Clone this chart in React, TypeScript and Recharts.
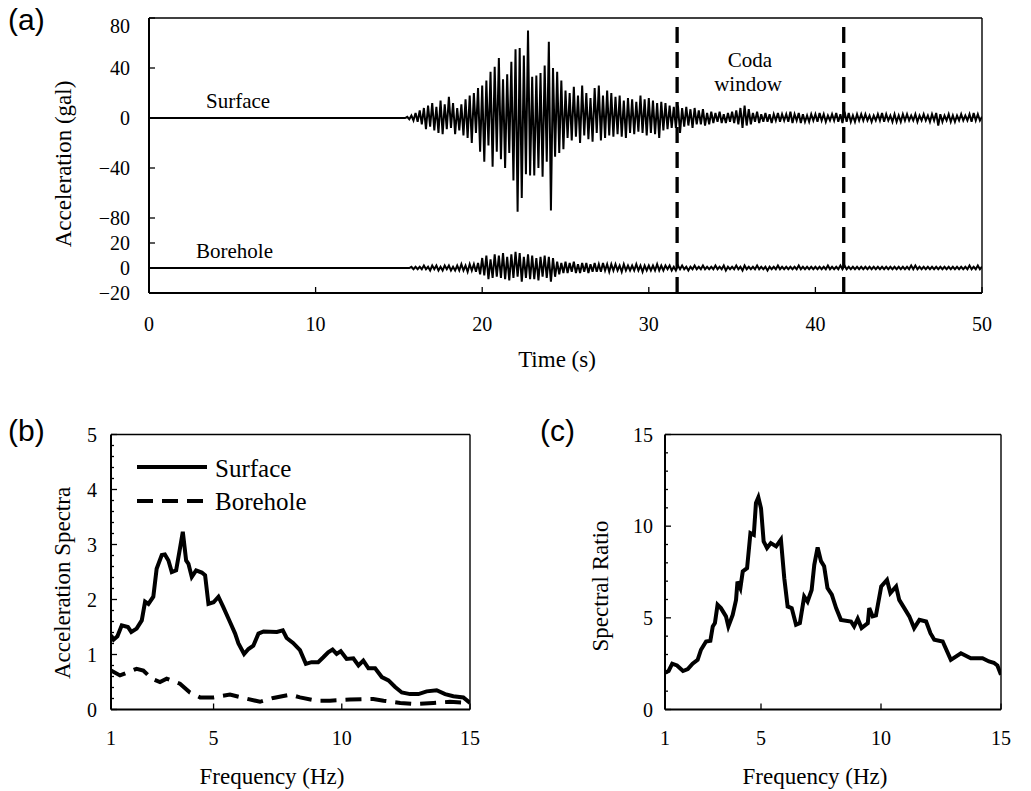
import { Legend, Line, LineChart, ReferenceLine, XAxis, YAxis } from 'recharts'

// (a) acceleration traces, sampled every 0.125 s from 15 s
const traceStart = 15
const traceStep = 0.125
const surfaceOffset = 120

const surfaceAccel = [
  0, 0, 0, 0, 1, -1, 2, -2,
  4, -3, 6, -5, 8, -9, 10, -7,
  12, -10, 9, -12, 14, -13, 11, -9,
  17, -8, 12, -13, 8, -10, 11, -14,
  15, -16, 18, -20, 20, -12, 24, -27,
  26, -35, 30, -22, 37, -39, 41, -27,
  48, -33, 31, -40, 35, -28, 45, -50,
  55, -75, 56, -64, 50, -45, 70, -46,
  33, -46, 34, -40, 36, -47, 42, -35,
  61, -74, 40, -31, 37, -28, 30, -25,
  22, -16, 20, -18, 25, -15, 18, -20,
  26, -14, 20, -17, 16, -19, 24, -12,
  26, -18, 18, -16, 22, -14, 20, -15,
  17, -13, 18, -15, 14, -16, 16, -12,
  15, -13, 13, -11, 18, -12, 15, -14,
  16, -12, 14, -13, 12, -16, 13, -10,
  12, -9, 10, -8, 9, -8, 10, -12,
  8, -7, 9, -6, 7, -8, 8, -5,
  6, -5, 7, -6, 4, -5, 5, -4,
  4, -3, 5, -4, 3, -4, 4, -3,
  5, -4, 6, -5, 8, -8, 10, -6,
  7, -5, 4, -3, 5, -4, 3, -3,
  4, -3, 3, -4, 3, -2, 4, -3,
  3, -2, 3, -3, 5, -4, 3, -2,
  4, -4, 3, -3, 2, -3, 3, -2,
  3, -3, 4, -2, 3, -3, 2, -2,
  3, -2, 4, -3, 3, -4, 5, -3,
  4, -3, 2, -3, 3, -2, 3, -2,
  3, -2, 2, -3, 2, -2, 3, -2,
  4, -3, 3, -2, 2, -3, 3, -3,
  2, -3, 3, -2, 3, -2, 2, -2,
  3, -3, 2, -2, 3, -2, 2, -3,
  3, -2, 4, -6, 3, -3, 2, -2,
  3, -3, 2, -3, 2, -2, 3, -2,
  2, -2, 3, -3, 4, -2, 3, -2,
  1,
]

const boreholeAccel = [
  0, 0, 0, 0, 0, 0, 1, -1,
  1, -1, 1, -1, 2, -1, 1, -2,
  2, -1, 2, -2, 1, -2, 2, -1,
  2, -2, 1, -2, 2, -2, 3, -2,
  2, -3, 3, -2, 3, -3, 4, -5,
  8, -6, 10, -9, 7, -8, 11, -7,
  10, -8, 12, -9, 9, -10, 11, -8,
  13, -7, 12, -11, 9, -8, 11, -9,
  10, -9, 8, -10, 9, -7, 10, -8,
  9, -11, 8, -7, 5, -5, 4, -4,
  5, -4, 4, -3, 5, -4, 3, -4,
  4, -3, 4, -4, 3, -3, 4, -3,
  3, -3, 4, -2, 3, -3, 3, -2,
  3, -2, 2, -3, 3, -2, 2, -2,
  2, -2, 3, -2, 2, -3, 2, -2,
  2, -2, 2, -2, 3, -2, 2, -2,
  2, -1, 2, -2, 1, -2, 2, -1,
  2, -1, 1, -2, 1, -1, 2, -1,
  1, -1, 2, -1, 1, -1, 1, -1,
  2, -1, 1, -1, 2, -2, 1, -1,
  1, -1, 2, -1, 1, -2, 2, -1,
  1, -1, 1, -1, 2, -1, 1, -1,
  1, -2, 1, -1, 1, -1, 2, -1,
  1, -1, 1, -1, 1, -1, 1, -1,
  2, -1, 1, -1, 1, -1, 1, -1,
  1, -1, 1, -1, 1, -1, 2, -1,
  1, -1, 1, -1, 2, -1, 2, -1,
  1, -1, 1, -1, 1, -1, 1, -1,
  1, -1, 1, -1, 1, -1, 1, -1,
  1, -1, 1, -1, 1, -1, 1, -1,
  1, -1, 1, -1, 1, -1, 2, -1,
  2, -1, 1, -1, 1, -1, 1, -1,
  1, -1, 1, -1, 1, -1, 1, -1,
  1, -1, 1, -1, 1, -1, 1, -1,
  1, -1, 2, -1, 1, -1, 2, -1,
  1,
]

const codaWindow = [31.7, 41.7]
const timeTicks = [0, 10, 20, 30, 40, 50]
const accelTicks = [-20, 0, 20, 40, 80, 120, 160, 200]
const accelTickLabels = ['−20', '0', '20', '−80', '−40', '0', '40', '80']

// (b) acceleration spectra
const surfaceFreq = [
  1.0, 1.1, 1.25, 1.42, 1.66, 1.79, 2.0, 2.2, 2.33, 2.46, 2.65, 2.78, 2.98, 3.1, 3.24,
  3.37, 3.54, 3.69, 3.8, 3.93, 4.02, 4.15, 4.32, 4.54, 4.67, 4.8, 5.0, 5.19, 5.38, 5.64,
  5.84, 5.97, 6.19, 6.36, 6.55, 6.75, 6.95, 7.47, 7.7, 7.85, 8.1, 8.37, 8.6, 8.82, 9.08,
  9.28, 9.47, 9.64, 9.8, 9.96, 10.19, 10.45, 10.65, 10.84, 11.04, 11.3, 11.56, 11.82,
  12.08, 12.34, 12.66, 12.99, 13.31, 13.7, 14.03, 14.35, 14.74, 15.0,
]
const surfaceSpec = [
  1.35, 1.27, 1.33, 1.53, 1.5, 1.41, 1.47, 1.62, 1.96, 1.92, 2.05, 2.56, 2.81, 2.82, 2.71,
  2.5, 2.53, 2.93, 3.23, 2.71, 2.65, 2.41, 2.53, 2.49, 2.44, 1.92, 1.95, 2.05, 1.86, 1.59,
  1.38, 1.2, 1.01, 1.1, 1.16, 1.38, 1.42, 1.41, 1.44, 1.3, 1.21, 1.08, 0.83, 0.86, 0.86,
  0.95, 1.04, 1.09, 1.01, 1.06, 0.92, 0.93, 0.8, 0.89, 0.75, 0.75, 0.59, 0.53,
  0.41, 0.31, 0.28, 0.28, 0.33, 0.35, 0.28, 0.24, 0.22, 0.12,
]
const boreholeFreq = [
  1.0, 1.35, 2.0, 2.26, 2.59, 2.91, 3.17, 3.69, 4.08, 4.47, 5.0, 5.64, 6.16, 6.81, 7.33,
  7.98, 8.37, 9.02, 9.54, 10.32, 11.23, 11.63, 12.28, 12.8, 13.57, 14.22, 15.0,
]
const boreholeSpec = [
  0.71, 0.62, 0.74, 0.71, 0.56, 0.5, 0.56, 0.47, 0.31, 0.22, 0.22, 0.27, 0.21, 0.14, 0.21,
  0.27, 0.22, 0.16, 0.16, 0.18, 0.19, 0.16, 0.12, 0.1, 0.12, 0.14, 0.12,
]

// (c) spectral ratio
const ratioFreq = [
  1.0, 1.15, 1.3, 1.5, 1.75, 1.95, 2.15, 2.36, 2.5, 2.71, 2.89, 2.99, 3.08, 3.19, 3.33,
  3.54, 3.64, 3.82, 3.96, 4.02, 4.14, 4.24, 4.42, 4.56, 4.7, 4.79, 4.89, 5.0, 5.11, 5.25,
  5.41, 5.63, 5.83, 5.97, 6.11, 6.28, 6.46, 6.62, 6.8, 6.94, 7.11, 7.22, 7.36, 7.5, 7.63,
  7.77, 7.95, 8.13, 8.33, 8.75, 8.88, 9.03, 9.19, 9.45, 9.51, 9.65, 9.79, 10.01, 10.25, 10.39,
  10.63, 10.76, 10.97, 11.18, 11.38, 11.6, 11.88, 12.06, 12.22, 12.57, 12.91, 13.33, 13.74,
  14.23, 14.5, 14.7, 14.85, 15.0,
]
const ratioValues = [
  2.0, 2.1, 2.5, 2.4, 2.1, 2.2, 2.5, 2.71, 3.26, 3.71, 3.75, 4.53, 4.71, 5.71, 5.53,
  5.08, 4.53, 5.16, 5.98, 6.98, 6.62, 7.53, 7.71, 9.62, 9.53, 11.26, 11.57, 10.98, 9.17, 8.81,
  9.08, 8.9, 9.27, 7.16, 5.62, 5.53, 4.62, 4.71, 6.16, 5.89, 6.52, 7.89, 8.84, 8.09, 7.82,
  6.62, 6.26, 5.53, 4.89, 4.8, 4.53, 4.95, 4.44, 4.71, 5.53, 5.08, 5.13, 6.71, 7.07, 6.35,
  6.71, 5.98, 5.53, 5.08, 4.44, 4.89, 4.8, 4.16, 3.8, 3.71, 2.71, 3.07, 2.8,
  2.8, 2.62, 2.55, 2.4, 1.9,
]

const freqTicks = [1, 5, 10, 15]
const spectraTicks = Array.from({ length: 26 }, (_, i) => Math.round(i * 2) / 10)
const ratioTicks = Array.from({ length: 16 }, (_, i) => i)

const serif = '"Liberation Serif", "Times New Roman", serif'
const sans = '"Liberation Sans", Arial, sans-serif'

const traceRows = [
  { t: 0, surface: surfaceOffset, borehole: 0 },
  ...surfaceAccel.map((v, i) => ({
    t: traceStart + i * traceStep,
    surface: v + surfaceOffset,
    borehole: boreholeAccel[i],
  })),
]
const surfaceRows = surfaceFreq.map((f, i) => ({ f, v: surfaceSpec[i] }))
const boreholeRows = boreholeFreq.map((f, i) => ({ f, v: boreholeSpec[i] }))
const ratioRows = ratioFreq.map((f, i) => ({ f, v: ratioValues[i] }))

const tickFont = { fontSize: 20, fontFamily: serif, fill: '#000' }
const frame = { stroke: '#000', strokeWidth: 2 }
const thinFrame = { stroke: '#000', strokeWidth: 1.4 }

type TickOpts = {
  label?: (v: number) => string | null
  major?: (v: number) => boolean
  gap?: number
  minY?: number
}

// inward tick marks (and labels) drawn at the plot edge
function yTick(edge: number, dir: number, opts: TickOpts = {}) {
  return (props: any) => {
    const { y, payload } = props
    const v = payload.value
    const isMajor = opts.major ? opts.major(v) : true
    const text = isMajor && opts.label ? opts.label(v) : null
    return (
      <g>
        <line x1={edge} x2={edge + dir * (isMajor ? 6 : 3)} y1={y} y2={y} stroke="#000" strokeWidth={1.3} />
        {text != null && (
          <text
            x={edge - (opts.gap ?? 14)}
            y={Math.max(y, opts.minY ?? -1000)}
            textAnchor="end"
            dominantBaseline="central"
            fontFamily={serif}
            fontSize={20}
            fill="#000"
          >
            {text}
          </text>
        )}
      </g>
    )
  }
}

function SpectraLegend() {
  return (
    <svg width={260} height={80}>
      <line x1={7} x2={77} y1={22} y2={22} stroke="#000" strokeWidth={4} />
      <text x={85} y={32} fontFamily={serif} fontSize={25}>Surface</text>
      <line x1={7} x2={77} y1={56} y2={56} stroke="#000" strokeWidth={4} strokeDasharray="16 9" />
      <text x={85} y={65} fontFamily={serif} fontSize={25}>Borehole</text>
    </svg>
  )
}

export default function App() {
  return (
    <div style={{ position: 'absolute', left: 0, top: 0, width: 1031, height: 791, background: '#fff' }}>
      {/* (a) */}
      <div style={{ position: 'absolute', left: 0, top: 0 }}>
        <LineChart width={1031} height={340} data={traceRows} margin={{ top: 17, right: 48, bottom: 17, left: 89 }}>
          <XAxis
            dataKey="t"
            type="number"
            domain={[0, 50]}
            ticks={timeTicks}
            interval={0}
            allowDataOverflow
            height={30}
            tickSize={-6}
            tickMargin={30}
            tick={tickFont}
            tickLine={{ stroke: '#000', strokeWidth: 1.3 }}
            axisLine={frame}
          />
          <XAxis
            xAxisId="top"
            orientation="top"
            dataKey="t"
            type="number"
            domain={[0, 50]}
            ticks={timeTicks}
            interval={0}
            allowDataOverflow
            height={1}
            tickSize={-6}
            tick={false}
            tickLine={{ stroke: '#000', strokeWidth: 1.3 }}
            axisLine={thinFrame}
          />
          <YAxis
            type="number"
            domain={[-20, 200]}
            ticks={accelTicks}
            interval={0}
            allowDataOverflow
            width={60}
            tickLine={false}
            axisLine={frame}
            tick={yTick(149, 1, {
              label: (v) => accelTickLabels[accelTicks.indexOf(v)],
              gap: 19,
              minY: 26,
            })}
          />
          <YAxis
            yAxisId="right"
            orientation="right"
            type="number"
            domain={[-20, 200]}
            ticks={accelTicks}
            interval={0}
            width={1}
            tickLine={false}
            axisLine={thinFrame}
            tick={yTick(982, -1)}
          />
          <Line dataKey="surface" stroke="#000" strokeWidth={2} dot={false} type="linear" isAnimationActive={false} />
          <Line dataKey="borehole" stroke="#000" strokeWidth={2} dot={false} type="linear" isAnimationActive={false} />
          {codaWindow.map((t) => (
            <ReferenceLine key={t} x={t} stroke="#000" strokeWidth={3.3} strokeDasharray="16 9" />
          ))}
        </LineChart>
      </div>

      {/* (b) */}
      <div style={{ position: 'absolute', left: 0, top: 400 }}>
        <LineChart width={520} height={391} margin={{ top: 33.5, right: 49, bottom: 51.5, left: 61 }}>
          <XAxis
            dataKey="f"
            type="number"
            domain={[1, 15]}
            ticks={freqTicks}
            interval={0}
            allowDataOverflow
            height={30}
            tickSize={-6}
            tickMargin={27.5}
            tick={tickFont}
            tickLine={{ stroke: '#000', strokeWidth: 1.3 }}
            axisLine={frame}
          />
          <XAxis
            xAxisId="top"
            orientation="top"
            dataKey="f"
            type="number"
            domain={[1, 15]}
            ticks={freqTicks}
            interval={0}
            height={1}
            tickSize={-6}
            tick={false}
            tickLine={{ stroke: '#000', strokeWidth: 1.3 }}
            axisLine={thinFrame}
          />
          <YAxis
            type="number"
            domain={[0, 5]}
            ticks={spectraTicks}
            interval={0}
            allowDataOverflow
            width={50}
            tickLine={false}
            axisLine={frame}
            tick={yTick(111, 1, { label: (v) => String(v), major: (v) => Number.isInteger(v), gap: 14 })}
          />
          <YAxis
            yAxisId="right"
            orientation="right"
            type="number"
            domain={[0, 5]}
            ticks={spectraTicks}
            interval={0}
            width={1}
            tickLine={false}
            axisLine={thinFrame}
            tick={yTick(470, -1, { major: (v) => Number.isInteger(v) })}
          />
          <Line data={surfaceRows} dataKey="v" name="Surface" stroke="#000" strokeWidth={4} dot={false} type="linear" isAnimationActive={false} />
          <Line
            data={boreholeRows}
            dataKey="v"
            name="Borehole"
            stroke="#000"
            strokeWidth={4}
            strokeDasharray="16 9"
            dot={false}
            type="linear"
            isAnimationActive={false}
          />
          <Legend
            layout="vertical"
            align="center"
            verticalAlign="middle"
            wrapperStyle={{ left: 130, top: 45, width: 260, height: 80 }}
            content={() => <SpectraLegend />}
          />
        </LineChart>
      </div>

      {/* (c) */}
      <div style={{ position: 'absolute', left: 520, top: 400 }}>
        <LineChart width={511} height={391} margin={{ top: 33.5, right: 29, bottom: 51.5, left: 95 }}>
          <XAxis
            dataKey="f"
            type="number"
            domain={[1, 15]}
            ticks={freqTicks}
            interval={0}
            allowDataOverflow
            height={30}
            tickSize={-6}
            tickMargin={27.5}
            tick={tickFont}
            tickLine={{ stroke: '#000', strokeWidth: 1.3 }}
            axisLine={frame}
          />
          <XAxis
            xAxisId="top"
            orientation="top"
            dataKey="f"
            type="number"
            domain={[1, 15]}
            ticks={freqTicks}
            interval={0}
            height={1}
            tickSize={-6}
            tick={false}
            tickLine={{ stroke: '#000', strokeWidth: 1.3 }}
            axisLine={thinFrame}
          />
          <YAxis
            type="number"
            domain={[0, 15]}
            ticks={ratioTicks}
            interval={0}
            allowDataOverflow
            width={50}
            tickLine={false}
            axisLine={frame}
            tick={yTick(145, 1, { label: (v) => String(v), major: (v) => v % 5 === 0, gap: 12 })}
          />
          <YAxis
            yAxisId="right"
            orientation="right"
            type="number"
            domain={[0, 15]}
            ticks={ratioTicks}
            interval={0}
            width={1}
            tickLine={false}
            axisLine={thinFrame}
            tick={yTick(481, -1, { major: (v) => v % 5 === 0 })}
          />
          <Line data={ratioRows} dataKey="v" stroke="#000" strokeWidth={4} dot={false} type="linear" isAnimationActive={false} />
        </LineChart>
      </div>

      {/* panel letters, axis titles and annotations */}
      <svg
        width={1031}
        height={791}
        style={{ position: 'absolute', left: 0, top: 0, pointerEvents: 'none' }}
        fontFamily={serif}
        fill="#000"
      >
        <text x={8} y={30} fontFamily={sans} fontSize={30}>(a)</text>
        <text x={8} y={441} fontFamily={sans} fontSize={30}>(b)</text>
        <text x={540} y={441} fontFamily={sans} fontSize={30}>(c)</text>

        <text x={206} y={108} fontSize={21}>Surface</text>
        <text x={196} y={258} fontSize={21}>Borehole</text>
        <text x={750} y={67} fontSize={21} textAnchor="middle">Coda</text>
        <text x={748} y={91} fontSize={21} textAnchor="middle">window</text>

        <text x={557} y={367} fontSize={23} textAnchor="middle">Time (s)</text>
        <text transform="translate(71 164) rotate(-90)" fontSize={23} textAnchor="middle">Acceleration (gal)</text>

        <text x={272} y={784} fontSize={23} textAnchor="middle">Frequency (Hz)</text>
        <text transform="translate(70 583) rotate(-90)" fontSize={23} textAnchor="middle">Acceleration Spectra</text>

        <text x={815} y={784} fontSize={23} textAnchor="middle">Frequency (Hz)</text>
        <text transform="translate(608 586) rotate(-90)" fontSize={23} textAnchor="middle">Spectral Ratio</text>
      </svg>
    </div>
  )
}
